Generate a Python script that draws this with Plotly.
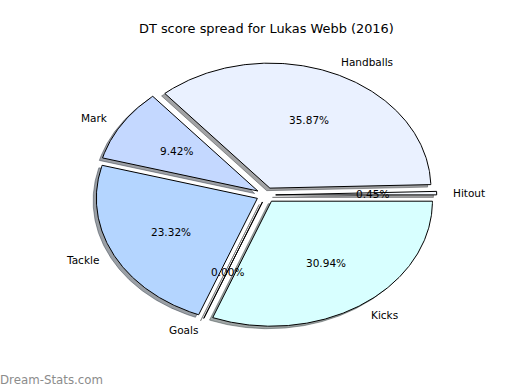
import numpy as np
import plotly.graph_objects as go

# ---- data ----
title = "DT score spread for Lukas Webb (2016)"
labels = ["Hitout", "Handballs", "Mark", "Tackle", "Goals", "Kicks"]
shares = [0.45, 35.87, 9.42, 23.32, 0.00, 30.94]
colors = ["#f4f8ff", "#eaf1ff", "#c4d8ff", "#b4d5ff", "#ffffff", "#d8ffff"]
watermark = "Dream-Stats.com"

# ---- style / layout params ----
W, H = 520, 390
CX, CY, RX, RY = 266, 195, 161, 125   # pixel centre and radii of the pie
EXPLODE = 0.06
SHADOW = (-0.02, -0.02)
FONT = "DejaVu Sans"

x0, x1 = -CX / RX, (W - CX) / RX
y0, y1 = -(H - CY) / RY, CY / RY

fig = go.Figure()

total = sum(shares)
start = 0.0
wedges = []
for lab, v, col in zip(labels, shares, colors):
    span = 360.0 * v / total
    mid = np.deg2rad(start + span / 2)
    ox, oy = EXPLODE * np.cos(mid), EXPLODE * np.sin(mid)
    n = max(2, int(span * 2) + 2)
    th = np.deg2rad(np.linspace(start, start + span, n))
    xs = np.concatenate([[ox], ox + np.cos(th), [ox]])
    ys = np.concatenate([[oy], oy + np.sin(th), [oy]])
    wedges.append((lab, v, col, xs, ys, mid, ox, oy))
    start += span

# shadows first (below wedges)
for lab, v, col, xs, ys, mid, ox, oy in wedges:
    r, g, b = int(col[1:3], 16), int(col[3:5], 16), int(col[5:7], 16)
    sc = f"rgba({int(r*0.3)},{int(g*0.3)},{int(b*0.3)},0.5)"
    fig.add_trace(go.Scatter(x=xs + SHADOW[0], y=ys + SHADOW[1], mode="lines",
                             fill="toself", fillcolor=sc,
                             line=dict(color=sc, width=1),
                             hoverinfo="skip", showlegend=False))

for lab, v, col, xs, ys, mid, ox, oy in wedges:
    fig.add_trace(go.Scatter(x=xs, y=ys, mode="lines", fill="toself",
                             fillcolor=col, line=dict(color="black", width=1),
                             name=lab, hoverinfo="name", showlegend=False))

annotations = []
for lab, v, col, xs, ys, mid, ox, oy in wedges:
    lx, ly = ox + 1.1 * np.cos(mid), oy + 1.1 * np.sin(mid)
    annotations.append(dict(x=lx, y=ly, xref="x", yref="y", text=lab,
                            showarrow=False, borderpad=0, borderwidth=0,
                            xanchor="left" if lx > 0 else "right",
                            yanchor="middle",
                            font=dict(family=FONT, size=10.5, color="black")))
    px, py = ox + 0.6 * np.cos(mid), oy + 0.6 * np.sin(mid)
    annotations.append(dict(x=px, y=py, xref="x", yref="y", text=f"{v:.2f}%",
                            showarrow=False, xanchor="center", yanchor="middle",
                            borderpad=0, borderwidth=0,
                            font=dict(family=FONT, size=10.5, color="black")))

annotations.append(dict(x=266 / W, y=1 - 29 / H, xref="paper", yref="paper",
                        text=title, showarrow=False, xanchor="center",
                        yanchor="middle",
                        font=dict(family=FONT, size=12.9, color="black")))
annotations.append(dict(x=0, y=1 - 380 / H, xref="paper", yref="paper",
                        text=watermark, showarrow=False, xanchor="left",
                        yanchor="middle", borderpad=0, borderwidth=0,
                        font=dict(family=FONT, size=11.8, color="#8c8c8c")))

fig.update_layout(
    width=W, height=H, margin=dict(l=0, r=0, t=0, b=0),
    paper_bgcolor="white", plot_bgcolor="white",
    xaxis=dict(range=[x0, x1], visible=False, fixedrange=True),
    yaxis=dict(range=[y0, y1], visible=False, fixedrange=True),
    annotations=annotations, showlegend=False,
)

fig.write_html("out.html", config={"displayModeBar": False},
               post_script="document.body.style.margin='0px';"
                           "document.body.style.overflow='hidden';")
